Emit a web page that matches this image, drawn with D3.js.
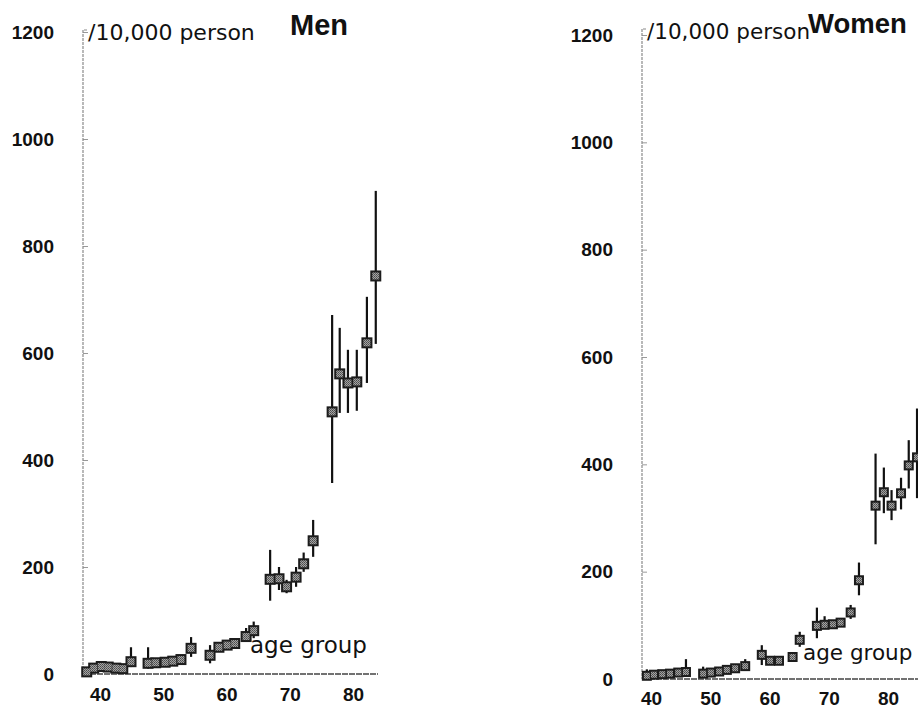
<!DOCTYPE html>
<html>
<head>
<meta charset="utf-8">
<script src="https://cdn.jsdelivr.net/npm/d3@7"></script>
<style>
  body { margin: 0; background: #fff; }
  svg { display: block; }
</style>
</head>
<body>
<svg id="chart" width="918" height="718"></svg>
<script>
// Incidence per 10,000 persons by age, with confidence intervals
const yTicks = [0, 200, 400, 600, 800, 1000, 1200];
const xTicks = [40, 50, 60, 70, 80];

const menAge  = [37.9, 39.0, 40.2, 41.3, 42.5, 43.6, 44.9, 47.6, 48.8, 50.3, 51.5, 52.8, 54.4, 57.4, 58.8, 60.1, 61.3, 63.1, 64.3, 66.9, 68.3, 69.5, 71.0, 72.2, 73.7, 76.7, 77.9, 79.2, 80.6, 82.2, 83.6];
const menRate = [4, 11, 14, 13, 11, 10, 23, 20, 21, 22, 24, 27, 48, 35, 50, 54, 57, 70, 81, 177, 178, 163, 181, 206, 249, 490, 561, 544, 546, 619, 744];
const menLow  = [2, 8, 11, 10, 8, 7, 13, 10, 16, 17, 19, 22, 32, 20, 44, 48, 51, 60, 67, 137, 157, 151, 163, 191, 219, 357, 488, 488, 492, 544, 617];
const menHigh = [6, 14, 18, 17, 15, 14, 50, 50, 26, 27, 30, 33, 69, 54, 57, 61, 64, 86, 98, 232, 200, 176, 200, 227, 288, 671, 647, 606, 606, 705, 903];

const womenAge  = [39.3, 40.5, 41.9, 43.2, 44.6, 45.9, 48.8, 50.1, 51.5, 52.8, 54.2, 55.9, 58.7, 60.1, 61.6, 63.9, 65.1, 68.0, 69.3, 70.7, 72.0, 73.7, 75.1, 77.9, 79.3, 80.6, 82.2, 83.5, 84.9];
const womenRate = [6, 8, 9, 10, 12, 13, 10, 12, 14, 17, 20, 24, 45, 34, 34, 41, 73, 99, 101, 102, 105, 124, 184, 323, 348, 323, 346, 398, 413];
const womenLow  = [3, 5, 6, 7, 8, 6, 7, 9, 11, 13, 16, 18, 26, 30, 30, 35, 60, 76, 95, 97, 100, 112, 156, 251, 309, 296, 316, 355, 337];
const womenHigh = [18, 11, 12, 13, 16, 37, 23, 15, 17, 21, 24, 37, 63, 38, 38, 47, 88, 133, 117, 107, 110, 138, 217, 420, 394, 352, 375, 445, 504];

const svg = d3.select("#chart");
svg.append("rect").attr("width", 918).attr("height", 718).attr("fill", "#fff");

// speckled grey fill for the markers
const defs = svg.append("defs");
const pat = defs.append("pattern")
  .attr("id", "speckle").attr("width", 2).attr("height", 2)
  .attr("patternUnits", "userSpaceOnUse");
pat.append("rect").attr("width", 2).attr("height", 2).attr("fill", "#a4a4a4");
pat.append("rect").attr("width", 1).attr("height", 1).attr("fill", "#4a4a4a");
pat.append("rect").attr("x", 1).attr("y", 1).attr("width", 1).attr("height", 1).attr("fill", "#5e5e5e");

const panels = [
  { title: "Men", age: menAge, rate: menRate, low: menLow, high: menHigh,
    xRange: [100, 353], yRange: [674, 32], axisX: 83, axisTop: 30, baseEnd: 378,
    box: 11, titleX: 290, titleY: 35, titleSize: 29,
    unitX: 88, unitY: 40, unitSize: 22, ageX: 250, ageY: 653, ageSize: 23, xPad: 14 },
  { title: "Women", age: womenAge, rate: womenRate, low: womenLow, high: womenHigh,
    xRange: [651, 888], yRange: [679, 35], axisX: 642, axisTop: 29, baseEnd: 918,
    box: 10, titleX: 808, titleY: 33, titleSize: 27.5,
    unitX: 647, unitY: 39, unitSize: 21.5, ageX: 803, ageY: 660, ageSize: 21.5, xPad: 13 }
];

const tickFont = "'Liberation Sans', Arial, sans-serif";

panels.forEach(p => {
  const x = d3.scaleLinear().domain([40, 80]).range(p.xRange);
  const y = d3.scaleLinear().domain([0, 1200]).range(p.yRange);
  const g = svg.append("g");

  // value axis
  const ya = g.append("g")
    .attr("transform", `translate(${p.axisX},0)`)
    .call(d3.axisLeft(y).tickValues(yTicks).tickFormat(d3.format("d"))
      .tickSizeInner(-5).tickSizeOuter(0).tickPadding(29));
  ya.select(".domain").remove();
  ya.selectAll(".tick line").attr("stroke", "#999").attr("stroke-width", 1);
  ya.selectAll(".tick text")
    .attr("font-family", tickFont)
    .attr("font-weight", "bold").attr("font-size", 19).attr("fill", "#111");

  g.append("path")
    .attr("d", `M${p.axisX + 4},${p.axisTop}H${p.axisX}V${y(0)}`)
    .attr("fill", "none").attr("stroke", "#8a8a8a").attr("stroke-width", 1.2)
    .attr("stroke-dasharray", "3 1");

  // age axis
  const xa = g.append("g")
    .attr("transform", `translate(0,${y(0)})`)
    .call(d3.axisBottom(x).tickValues(xTicks).tickFormat(d3.format("d"))
      .tickSize(0).tickPadding(p.xPad));
  xa.select(".domain").remove();
  xa.selectAll(".tick text")
    .attr("font-family", tickFont)
    .attr("font-weight", "bold").attr("font-size", 19).attr("fill", "#111");

  g.append("line")
    .attr("x1", p.axisX).attr("x2", p.baseEnd)
    .attr("y1", y(0)).attr("y2", y(0))
    .attr("stroke", "#444").attr("stroke-width", 1.4)
    .attr("stroke-dasharray", "6 1");

  // labels
  g.append("text").text(p.title)
    .attr("x", p.titleX).attr("y", p.titleY)
    .attr("font-family", tickFont)
    .attr("font-weight", "bold").attr("font-size", p.titleSize).attr("fill", "#111");
  g.append("text").text("/10,000 person")
    .attr("x", p.unitX).attr("y", p.unitY)
    .attr("font-family", "'DejaVu Sans', sans-serif")
    .attr("font-size", p.unitSize).attr("fill", "#111");
  g.append("text").text("age group")
    .attr("x", p.ageX).attr("y", p.ageY)
    .attr("font-family", "'DejaVu Sans', sans-serif")
    .attr("font-size", p.ageSize).attr("fill", "#111");

  const idx = d3.range(p.age.length);

  // confidence intervals
  g.append("g").selectAll("line").data(idx).join("line")
    .attr("x1", i => x(p.age[i])).attr("x2", i => x(p.age[i]))
    .attr("y1", i => y(p.low[i])).attr("y2", i => y(p.high[i]))
    .attr("stroke", "#111").attr("stroke-width", 2.2);

  // markers: dark outlines first, then speckled interiors so neighbours merge
  const b = p.box, inset = 2;
  g.append("g").selectAll("rect").data(idx).join("rect")
    .attr("x", i => x(p.age[i]) - b / 2).attr("y", i => y(p.rate[i]) - b / 2)
    .attr("width", b).attr("height", b).attr("fill", "#1c1c1c");
  g.append("g").selectAll("rect").data(idx).join("rect")
    .attr("x", i => x(p.age[i]) - b / 2 + inset).attr("y", i => y(p.rate[i]) - b / 2 + inset)
    .attr("width", b - 2 * inset).attr("height", b - 2 * inset).attr("fill", "url(#speckle)");
});
</script>
</body>
</html>
